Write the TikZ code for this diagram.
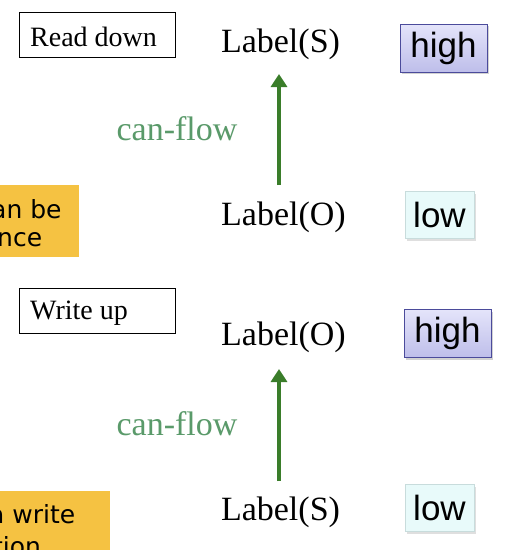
\documentclass[tikz,border=0pt]{standalone}
\usepackage{fontspec}
\setmainfont{Liberation Serif}
\newfontfamily\hisans{Liberation Sans}
\newfontfamily\notefont{DejaVu Sans}
\usetikzlibrary{arrows.meta,shadows}
\definecolor{flowgreen}{HTML}{3A7D2A}
\definecolor{cantext}{HTML}{5A9A6A}
\definecolor{notey}{HTML}{F5C242}
\definecolor{hiborder}{HTML}{4B4B9B}
\definecolor{hitop}{HTML}{E4E4FA}
\definecolor{hibot}{HTML}{BEBEEA}
\definecolor{lofill}{HTML}{E8FAFA}
\definecolor{loborder}{HTML}{C8DCDC}
\tikzset{
  lbl/.style={font=\fontsize{34}{38}\selectfont, inner sep=0pt},
  rulebox/.style={draw=black, line width=0.8pt, minimum width=156pt, minimum height=45pt, inner sep=0pt},
  rulebox text/.style={font=\fontsize{28}{32}\selectfont, anchor=west, inner sep=0pt},
  canflow/.style={font=\fontsize{34}{38}\selectfont, text=cantext, inner sep=0pt},
  flowarrow/.style={draw=flowgreen, line width=3.5pt, -{Triangle[length=13pt,width=16pt]}},
  highbox/.style={draw=hiborder, line width=0.8pt, top color=hitop, bottom color=hibot, minimum width=87pt, minimum height=48pt, inner sep=0pt, font=\hisans\fontsize{35}{38}\selectfont, drop shadow={shadow xshift=1.5pt, shadow yshift=-2pt, opacity=0.35}},
  lowbox/.style={draw=loborder, line width=0.6pt, fill=lofill, minimum width=69pt, minimum height=47pt, inner sep=0pt, font=\hisans\fontsize{35}{38}\selectfont, drop shadow={shadow xshift=1.5pt, shadow yshift=-2pt, opacity=0.25}},
  note/.style={fill=notey, draw=none},
  notetext/.style={font=\notefont\fontsize{25}{30}\selectfont, inner sep=0pt, anchor=west},
}
\begin{document}
\begin{tikzpicture}[x=1pt,y=-1pt]
\useasboundingbox (0,0) rectangle (516,550);
\clip (0,0) rectangle (516,550);
\fill[white] (0,0) rectangle (516,550);
% --- top: read down ---
\node[rulebox] (rd) at (97,34.5) {};
\node[rulebox text] (rdt) at (30,37) {Read down};
\node[lbl] (ls1) at (280.5,44) {Label(S)};
\node[lbl] (lo1) at (283.5,217) {Label(O)};
\draw[flowarrow] (279,185) -- (279,74);
\node[canflow] (cf1) at (177,129) {can-flow};
\node[highbox] (hi1) at (443.5,48) {high};
\node[lowbox] (lw1) at (439.5,215) {low};
\fill[note] (-10,185) rectangle (79,257);
\node[notetext] (n1a) at (-9,209) {an be};
\node[notetext] (n1b) at (-3,240) {nce};
% --- bottom: write up ---
\node[rulebox] (wu) at (97,310.5) {};
\node[rulebox text] (wut) at (30,313) {Write up};
\node[lbl] (lo2) at (283.5,337) {Label(O)};
\node[lbl] (ls2) at (280.5,512) {Label(S)};
\draw[flowarrow] (279,481) -- (279,369);
\node[canflow] (cf2) at (177,424) {can-flow};
\node[highbox] (hi2) at (447.5,333.5) {high};
\node[lowbox] (lw2) at (439.5,508) {low};
\fill[note] (-10,491) rectangle (110,560);
\node[notetext] (n2a) at (-11,514) {a write};
\node[notetext] (n2b) at (-7,546) {tion};
\end{tikzpicture}
\end{document}
